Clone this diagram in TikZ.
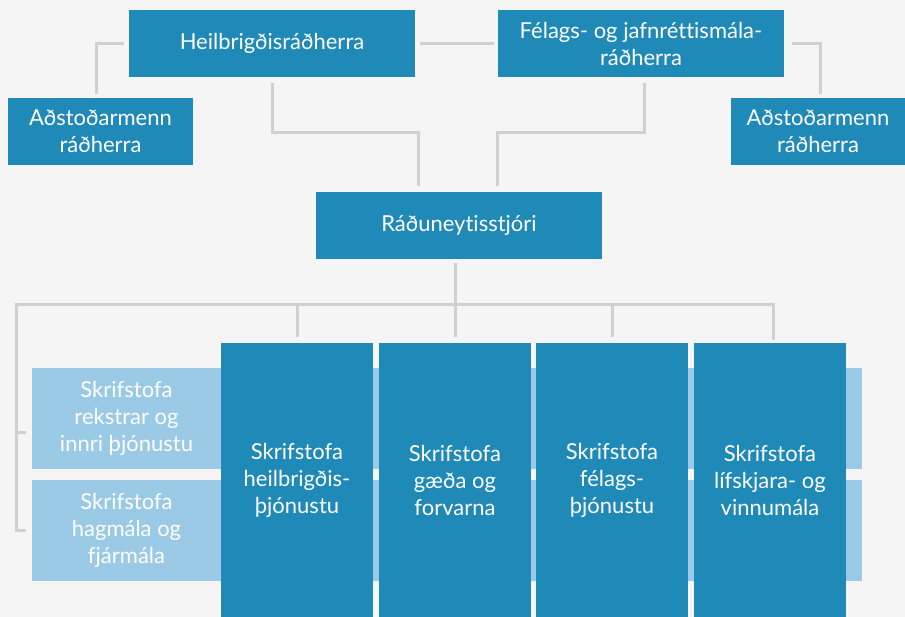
\documentclass[tikz,border=0pt]{standalone}
\usepackage{fontspec}
\setmainfont{Lato}[Ligatures=NoCommon]
\usetikzlibrary{positioning}

\definecolor{bgGrey}{RGB}{245,245,245}
\definecolor{deptBlue}{RGB}{31,137,183}
\definecolor{unitBlue}{RGB}{155,202,230}
\definecolor{lineGrey}{RGB}{208,208,208}

\begin{document}
\begin{tikzpicture}[x=1pt, y=-1pt,
    box/.style={fill=deptBlue, text=white, align=center, inner sep=0pt, font=\fontsize{22}{27}\selectfont},
    unit/.style={box, fill=unitBlue},
    link/.style={draw=lineGrey, line width=3pt}]
        \fill[bgGrey] (0,0) rectangle (905,617);
        \useasboundingbox (0,0) rectangle (905,617);

        \node[box, minimum width=286pt, minimum height=67pt] (heil) at (272,43.5) {Heilbrigðisráðherra};
        \node[box, minimum width=286pt, minimum height=67pt] (felag) at (641,43.5) {Félags- og jafnréttismála-\\ráðherra};
        \node[box, minimum width=185pt, minimum height=67pt] (adstL) at (100.5,131.5) {Aðstoðarmenn\\ráðherra};
        \node[box, minimum width=174pt, minimum height=67pt] (adstR) at (818,131.5) {Aðstoðarmenn\\ráðherra};
        \node[box, minimum width=286pt, minimum height=67pt] (rad) at (459,225.5) {Ráðuneytisstjóri};

        \node[unit, minimum width=189pt, minimum height=101pt] (rekstur) at (126.5,418.5) {Skrifstofa\\rekstrar og\\innri þjónustu};
        \node[unit, minimum width=189pt, minimum height=101pt] (hagmal) at (126.5,530.5) {Skrifstofa\\hagmála og\\fjármála};
        \fill[unitBlue] (rekstur.north east) rectangle (862,469);
        \fill[unitBlue] (hagmal.north east) rectangle (862,581);

        \node[box, minimum width=152pt, minimum height=274pt] (d1) at (297,480) {Skrifstofa\\heilbrigðis-\\þjónustu};
        \node[box, minimum width=152pt, minimum height=274pt] (d2) at (455,480) {Skrifstofa\\gæða og\\forvarna};
        \node[box, minimum width=152pt, minimum height=274pt] (d3) at (612,480) {Skrifstofa\\félags-\\þjónustu};
        \node[box, minimum width=152pt, minimum height=274pt] (d4) at (770,480) {Skrifstofa\\lífskjara- og\\vinnumála};

        \draw[link] ([xshift=-5pt]heil.west) -| ([xshift=-4pt, yshift=4pt]adstL.north);
        \draw[link] ([xshift=5pt]heil.east) -- ([xshift=-4pt]felag.west);
        \draw[link] ([xshift=8pt]felag.east) -| ([xshift=2pt, yshift=4pt]adstR.north);
        \draw[link] ([yshift=-6pt]heil.south) -- ++(0,49) -| ([xshift=-41pt, yshift=6pt]rad.north);
        \draw[link] ([xshift=3pt, yshift=-6pt]felag.south) -- ++(0,49) -| ([xshift=38pt, yshift=6pt]rad.north);
        \draw[link] ([xshift=-4pt, yshift=-4pt]rad.south) -- ([yshift=6pt]d2.north);
        \draw[link] ([xshift=3pt, yshift=3pt]d4.north) -- ++(0,-35) -| ([xshift=-15pt]hagmal.west) -- ++(9,0);
        \draw[link] ([yshift=6pt]d1.north) -- ++(0,-32);
        \draw[link] ([yshift=6pt]d3.north) -- ++(0,-32);
        \draw[link] ([xshift=-15pt, yshift=-13.5pt]rekstur.west) -- ++(9,0);
      \end{tikzpicture}
\end{document}
